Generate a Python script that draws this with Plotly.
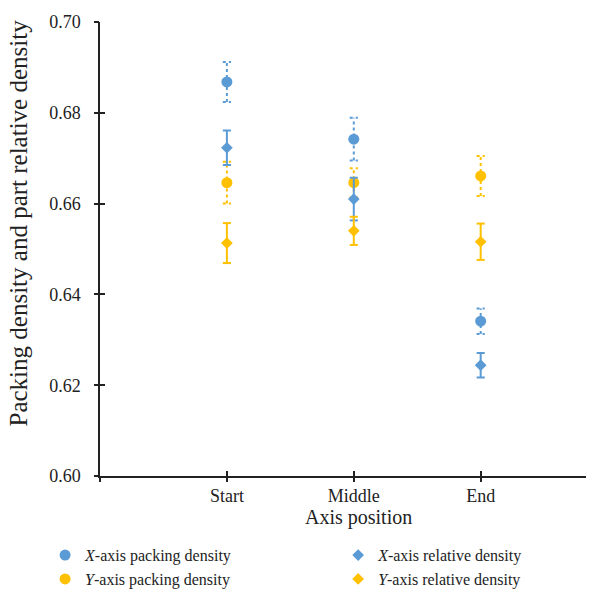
import plotly.graph_objects as go

categories = ["Start", "Middle", "End"]
x_pack = [0.6868, 0.6742, 0.6341]
x_pack_err = [0.0044, 0.0047, 0.0028]
x_rel = [0.6723, 0.6610, 0.6244]
x_rel_err = [0.0038, 0.0047, 0.0027]
y_pack = [0.6646, 0.6646, 0.6661]
y_pack_err = [0.0046, 0.0032, 0.0044]
y_rel = [0.6513, 0.6540, 0.6516]
y_rel_err = [0.0044, 0.0031, 0.0040]
y_ticks = [0.60, 0.62, 0.64, 0.66, 0.68, 0.70]

BLUE = "#5B9BD5"
YELLOW = "#FFC000"
FONT = "Liberation Serif"
CAP = 0.032

xpos = list(range(1, len(categories) + 1))


def err_segments(vals, errs):
    xs, ys = [], []
    for xi, v, e in zip(xpos, vals, errs):
        xs += [xi, xi, None, xi - CAP, xi + CAP, None, xi - CAP, xi + CAP, None]
        ys += [v - e, v + e, None, v + e, v + e, None, v - e, v - e, None]
    return xs, ys


series = [
    ("<i>X</i>-axis packing density", x_pack, x_pack_err, BLUE, "circle", 11, "dot", "legend"),
    ("<i>Y</i>-axis packing density", y_pack, y_pack_err, YELLOW, "circle", 11, "dot", "legend"),
    ("<i>X</i>-axis relative density", x_rel, x_rel_err, BLUE, "diamond", 9, "solid", "legend2"),
    ("<i>Y</i>-axis relative density", y_rel, y_rel_err, YELLOW, "diamond", 9, "solid", "legend2"),
]

fig = go.Figure()
for name, vals, errs, col, sym, size, dash, leg in series:
    ex, ey = err_segments(vals, errs)
    fig.add_trace(go.Scatter(x=ex, y=ey, mode="lines", showlegend=False, hoverinfo="skip",
                             line=dict(color=col, width=2, dash=dash)))
    fig.add_trace(go.Scatter(x=xpos, y=vals, mode="markers", name=name, legend=leg,
                             marker=dict(color=col, symbol=sym, size=size, line=dict(width=0))))

# invisible trace to activate the overlay axes (outer half of crossing ticks)
fig.add_trace(go.Scatter(x=[None], y=[None], xaxis="x2", yaxis="y2", showlegend=False,
                         hoverinfo="skip"))

tickfont = dict(family=FONT, size=18, color="#222")
legfont = dict(family=FONT, size=16, color="#222")

fig.update_layout(
    width=597, height=590,
    margin=dict(l=100, r=11, t=22, b=114, autoexpand=False),
    plot_bgcolor="white", paper_bgcolor="white",
    font=dict(family=FONT, color="#222", size=18),
    xaxis=dict(range=[0, 3.83], tickmode="array", tickvals=[0] + xpos, ticktext=[""] + categories,
               showline=True, linecolor="#222", linewidth=1.5, ticks="inside", ticklen=5,
               tickcolor="#222", tickwidth=1.5, showgrid=False, zeroline=False,
               tickfont=tickfont, ticklabelstandoff=3),
    yaxis=dict(range=[0.60, 0.70], tickmode="array", tickvals=y_ticks, tickformat=".2f",
               showline=True, linecolor="#222", linewidth=1.5, ticks="inside", ticklen=5,
               tickcolor="#222", tickwidth=1.5, showgrid=False, zeroline=False,
               tickfont=tickfont, ticklabelstandoff=14),
    xaxis2=dict(overlaying="x", range=[0, 3.83], tickmode="array", tickvals=[0] + xpos,
                ticks="outside", ticklen=5, tickcolor="#222", tickwidth=1.5,
                showticklabels=False, showgrid=False, zeroline=False, side="bottom", anchor="y"),
    yaxis2=dict(overlaying="y", range=[0.60, 0.70], tickmode="array", tickvals=y_ticks,
                ticks="outside", ticklen=5, tickcolor="#222", tickwidth=1.5,
                showticklabels=False, showgrid=False, zeroline=False, side="left", anchor="x"),
    legend=dict(orientation="v", x=-0.113, xanchor="left", y=-0.137, yanchor="top",
                font=legfont, itemsizing="trace", tracegroupgap=0, bgcolor="rgba(0,0,0,0)"),
    legend2=dict(orientation="v", x=0.49, xanchor="left", y=-0.137, yanchor="top",
                 font=legfont, itemsizing="trace", tracegroupgap=0, bgcolor="rgba(0,0,0,0)"),
    annotations=[
        dict(text="Axis position", xref="paper", yref="paper", x=0.531, y=-0.092,
             xanchor="center", yanchor="middle", showarrow=False,
             font=dict(family=FONT, size=20, color="#222")),
        dict(text="Packing density and part relative density", xref="paper", yref="paper",
             x=-0.168, y=0.557, xanchor="center", yanchor="middle", textangle=-90,
             showarrow=False, font=dict(family=FONT, size=25, color="#222")),
    ],
)

fig.write_html("out.html")
